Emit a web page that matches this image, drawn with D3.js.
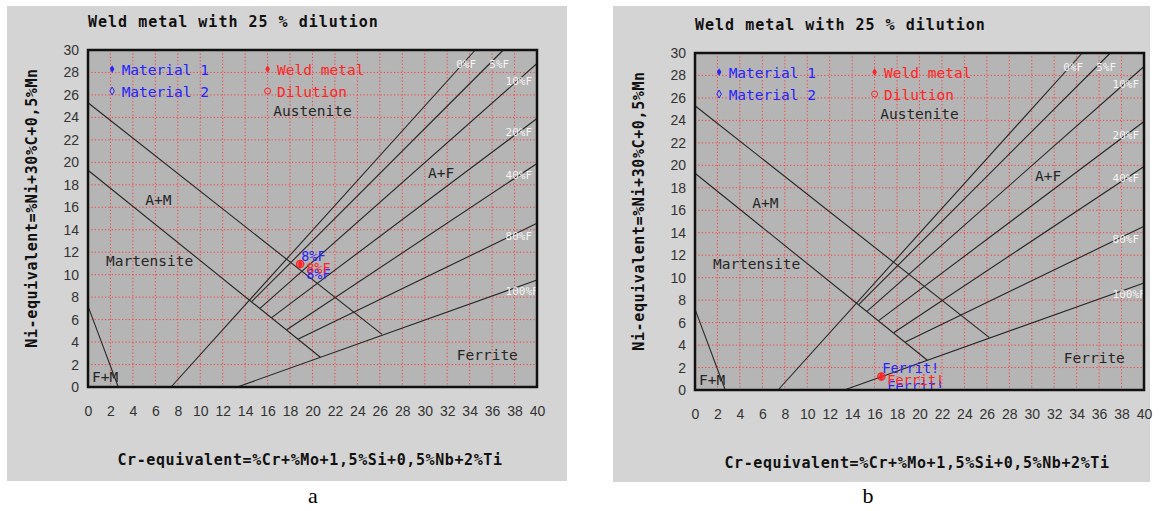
<!DOCTYPE html>
<html>
<head>
<meta charset="utf-8">
<script src="https://cdn.jsdelivr.net/npm/d3@7"></script>
<style>
  body { margin: 0; background: #fff; }
  text { font-family: "DejaVu Sans Mono", monospace; }
</style>
</head>
<body>
<svg id="chart"></svg>
<script>
const W = 1161, H = 511;

// axis ticks
const xTicks = [0, 2, 4, 6, 8, 10, 12, 14, 16, 18, 20, 22, 24, 26, 28, 30, 32, 34, 36, 38, 40];
const yTicks = [0, 2, 4, 6, 8, 10, 12, 14, 16, 18, 20, 22, 24, 26, 28, 30];

// Schaeffler boundaries, [Cr-eq, Ni-eq] ends
const lineNames = ["A/A+M", "M/A+M", "F+M", "0%F", "5%F", "10%F", "20%F", "40%F", "80%F", "100%F"];
const lineStart = [[0, 25.3], [0, 19.3], [0, 7.2], [7.4, 0], [14.58, 7.6], [15.32, 7.0], [16.36, 6.18], [17.7, 5.1], [18.74, 4.27], [13.3, 0]];
const lineEnd = [[26.2, 4.68], [20.7, 2.65], [2.7, 0], [34.5, 30], [37, 30], [40, 28.8], [40, 23.9], [40, 19.9], [40, 14.57], [40, 9.53]];

const ferriteLabels = ["0%F", "5%F", "10%F", "20%F", "40%F", "80%F", "100%F"];
const ferriteLabelAt = [[32.8, 28.7], [35.75, 28.7], [37.2, 27.2], [37.2, 22.7], [37.2, 18.9], [37.2, 13.4], [37.2, 8.5]];

const regionNames = ["Austenite", "A+M", "Martensite", "F+M", "Ferrite", "A+F"];
const regionAt = [[16.5, 24.6], [5.1, 16.65], [1.6, 11.2], [0.35, 0.9], [32.85, 2.85], [30.3, 19.1]];

const legendNames = ["Material 1", "Material 2", "Weld metal", "Dilution"];
const legendAt = [[2.15, 28.3], [2.15, 26.35], [16, 28.3], [16, 26.35]];

// the two diagrams
const panelNames = ["a", "b"];
const weldPoints = [[18.9, 10.95], [16.6, 1.2]];
const ferriteResult = ["8%F", "Ferrit!"];

const blue = "#2424ff", red = "#ff2424", ink = "#262626";

const svg = d3.select("#chart").attr("width", W).attr("height", H);
svg.append("rect").attr("width", W).attr("height", H).attr("fill", "#fff");

const panels = [
  { bg: [7, 6, 560, 475], dx: 0, dy: 0, capX: 313 },
  { bg: [613, 6, 537, 476], dx: 607, dy: 3, capX: 868 }
];

panels.forEach((p, i) => {
  svg.append("rect").attr("x", p.bg[0]).attr("y", p.bg[1]).attr("width", p.bg[2]).attr("height", p.bg[3])
    .attr("fill", "#d4d4d4");

  const g = svg.append("g").attr("transform", `translate(${p.dx},${p.dy})`);
  const x = d3.scaleLinear().domain([0, 40]).range([88, 537]);
  const y = d3.scaleLinear().domain([0, 30]).range([387, 50]);

  g.append("text").attr("x", 88).attr("y", 27).text("Weld metal with 25 % dilution")
    .style("font-size", "15px").style("font-weight", "bold").style("letter-spacing", "1px").attr("fill", "#111");

  g.append("rect").attr("x", x(0)).attr("y", y(30)).attr("width", x(40) - x(0)).attr("height", y(0) - y(30))
    .attr("fill", "#b5b5b5");

  // dotted red grid
  g.append("g").selectAll("line").data(xTicks.slice(1, -1)).enter().append("line")
    .attr("x1", d => x(d)).attr("x2", d => x(d)).attr("y1", y(30)).attr("y2", y(0))
    .attr("stroke", "#ff3c3c").attr("stroke-dasharray", "1.2,2.2");
  g.append("g").selectAll("line").data(yTicks.slice(1, -1)).enter().append("line")
    .attr("y1", d => y(d)).attr("y2", d => y(d)).attr("x1", x(0)).attr("x2", x(40))
    .attr("stroke", "#ff3c3c").attr("stroke-dasharray", "1.2,2.2");

  // phase boundary lines
  g.append("g").selectAll("line").data(lineNames).enter().append("line")
    .attr("x1", (d, k) => x(lineStart[k][0])).attr("y1", (d, k) => y(lineStart[k][1]))
    .attr("x2", (d, k) => x(lineEnd[k][0])).attr("y2", (d, k) => y(lineEnd[k][1]))
    .attr("stroke", ink).attr("stroke-width", 1.1);

  g.append("g").selectAll("text").data(ferriteLabels).enter().append("text")
    .attr("x", (d, k) => x(ferriteLabelAt[k][0])).attr("y", (d, k) => y(ferriteLabelAt[k][1]))
    .attr("dy", "0.35em").text(d => d)
    .style("font-size", "11px").attr("fill", "#f4f4f4");

  g.append("g").selectAll("text").data(regionNames).enter().append("text")
    .attr("x", (d, k) => x(regionAt[k][0])).attr("y", (d, k) => y(regionAt[k][1]))
    .attr("dy", "0.35em").text(d => d)
    .style("font-size", "14.5px").attr("fill", ink);

  // legend
  const leg = g.append("g");
  legendNames.forEach((name, k) => {
    const cx = x(legendAt[k][0]), cy = y(legendAt[k][1]);
    const col = k < 2 ? blue : red;
    if (k === 3) {
      leg.append("circle").attr("cx", cx).attr("cy", cy).attr("r", 3).attr("fill", "none").attr("stroke", col);
    } else {
      leg.append("path").attr("d", d3.symbol(d3.symbolDiamond, 18)()).attr("transform", `translate(${cx},${cy})`)
        .attr("fill", k === 1 ? "none" : col).attr("stroke", col).attr("stroke-width", k === 1 ? 1 : 0);
    }
    leg.append("text").attr("x", cx + 9.5).attr("y", cy + 1).attr("dy", "0.35em").text(name)
      .style("font-size", "14.5px").attr("fill", col);
  });

  // weld point and ferrite result
  const wx = x(weldPoints[i][0]), wy = y(weldPoints[i][1]);
  g.append("text").attr("x", wx + 6).attr("y", wy + 10).attr("dy", "0.35em").text(ferriteResult[i])
    .style("font-size", "13.5px").attr("fill", blue);
  g.append("text").attr("x", wx + 6).attr("y", wy + 4).attr("dy", "0.35em").text(ferriteResult[i])
    .style("font-size", "13.5px").attr("fill", red);
  g.append("text").attr("x", wx + 1).attr("y", wy - 8).attr("dy", "0.35em").text(ferriteResult[i])
    .style("font-size", "13.5px").attr("fill", blue);
  g.append("circle").attr("cx", wx).attr("cy", wy).attr("r", 3.5).attr("fill", "none").attr("stroke", red).attr("stroke-width", 1.5);
  g.append("path").attr("d", d3.symbol(d3.symbolDiamond, 22)()).attr("transform", `translate(${wx},${wy})`).attr("fill", red);

  g.append("rect").attr("x", x(0)).attr("y", y(30)).attr("width", x(40) - x(0)).attr("height", y(0) - y(30))
    .attr("fill", "none").attr("stroke", "#111").attr("stroke-width", 2.5);

  // axes
  const xAxis = g.append("g").attr("transform", `translate(0,${y(0) + 24})`)
    .call(d3.axisBottom(x).tickValues(xTicks).tickSize(0).tickPadding(0));
  const yAxis = g.append("g").attr("transform", `translate(${x(0) - 9},0)`)
    .call(d3.axisLeft(y).tickValues(yTicks).tickSize(0).tickPadding(0));
  [xAxis, yAxis].forEach(a => {
    a.select(".domain").remove();
    a.selectAll("text").style("font-family", "'Liberation Sans', Arial, sans-serif").style("font-size", "14px").attr("fill", "#333");
  });
  xAxis.selectAll("text").attr("dy", "0.35em");

  g.append("text").attr("x", 310).attr("y", 460).attr("dy", "0.35em").attr("text-anchor", "middle")
    .text("Cr-equivalent=%Cr+%Mo+1,5%Si+0,5%Nb+2%Ti")
    .style("font-size", "15px").style("font-weight", "bold").style("letter-spacing", "0.6px").attr("fill", "#111");
  g.append("text").attr("transform", "translate(32,208) rotate(-90)").attr("dy", "0.35em").attr("text-anchor", "middle")
    .text("Ni-equivalent=%Ni+30%C+0,5%Mn")
    .style("font-size", "15px").style("font-weight", "bold").style("letter-spacing", "0.6px").attr("fill", "#111");

  svg.append("text").attr("x", p.capX).attr("y", 503).attr("text-anchor", "middle")
    .text(panelNames[i]).style("font-family", "'Liberation Serif', 'Times New Roman', serif").style("font-size", "22px").attr("fill", "#000");
});
</script>
</body>
</html>
